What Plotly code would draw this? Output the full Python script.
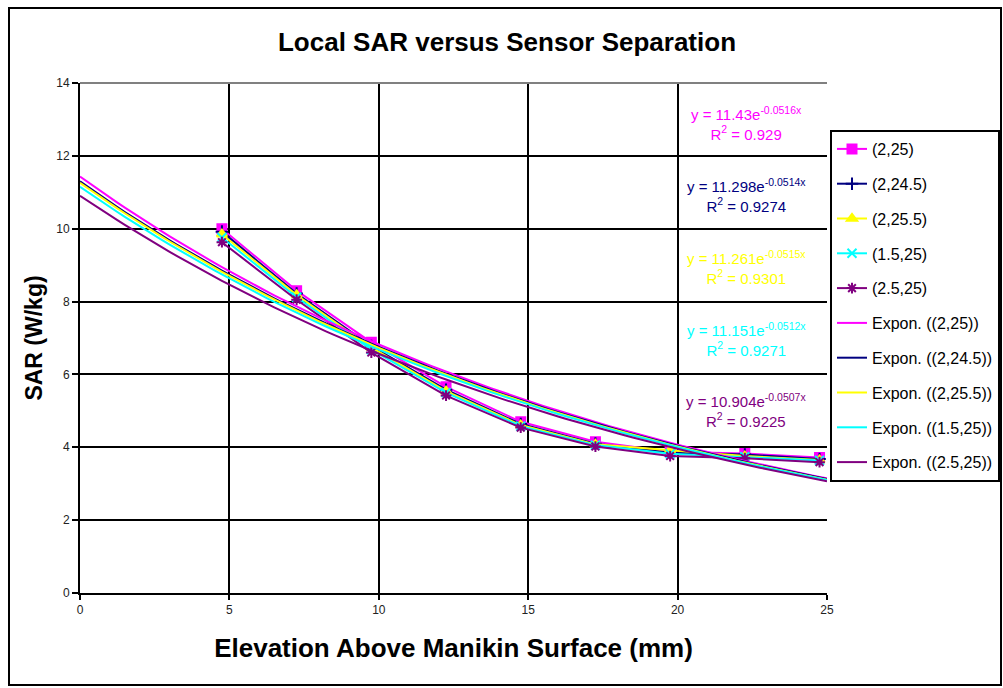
import numpy as np
import plotly.graph_objects as go

# ---- data ----
elevation = [4.75, 7.25, 9.75, 12.25, 14.75, 17.25, 19.75, 22.25, 24.75]
series_names = ["(2,25)", "(2,24.5)", "(2,25.5)", "(1.5,25)", "(2.5,25)"]
sar_2_25 = [10.0, 8.30, 6.88, 5.66, 4.70, 4.15, 3.88, 3.83, 3.72]
sar_2_245 = [9.92, 8.22, 6.78, 5.58, 4.64, 4.10, 3.85, 3.80, 3.68]
sar_2_255 = [9.85, 8.18, 6.74, 5.54, 4.61, 4.08, 3.92, 3.76, 3.65]
sar_15_25 = [9.76, 8.12, 6.68, 5.50, 4.58, 4.06, 3.82, 3.74, 3.64]
sar_25_25 = [9.63, 8.05, 6.60, 5.42, 4.54, 4.02, 3.76, 3.70, 3.59]
sar_values = [sar_2_25, sar_2_245, sar_2_255, sar_15_25, sar_25_25]

fit_a = [11.43, 11.298, 11.261, 11.151, 10.904]
fit_b = [-0.0516, -0.0514, -0.0515, -0.0512, -0.0507]
fit_r2 = ["0.929", "0.9274", "0.9301", "0.9271", "0.9225"]

x_ticks = [0, 5, 10, 15, 20, 25]
y_ticks = [0, 2, 4, 6, 8, 10, 12, 14]

# ---- style ----
colors = ["#FF00FF", "#000080", "#FFFF00", "#00FFFF", "#800080"]
symbols = ["square", "cross-thin", "triangle-up", "x-thin", "asterisk"]
FONT = "Arial, 'Liberation Sans', sans-serif"

fig = go.Figure()

for i, name in enumerate(series_names):
    fig.add_trace(go.Scatter(
        x=elevation, y=sar_values[i], mode="lines+markers", name=name,
        legendgroup="g%d" % i,
        line=dict(color=colors[i], width=2),
        marker=dict(symbol=symbols[i], size=9, color=colors[i],
                    line=dict(color=colors[i], width=2)),
    ))

x_fit = np.linspace(0, 25, 101)
for i, name in enumerate(series_names):
    fig.add_trace(go.Scatter(
        x=x_fit, y=fit_a[i] * np.exp(fit_b[i] * x_fit), mode="lines",
        name="Expon. (%s)" % name, legendgroup="t%d" % i,
        line=dict(color=colors[i], width=2),
    ))

# plot area geometry in px
L, R, T, B = 80, 827, 83, 593
W, H = R - L, B - T

def px_x(p):
    return (p - L) / W

def px_y(p):
    return (B - p) / H

eq_y = [113, 185, 257, 329, 400]
for i in range(5):
    fig.add_annotation(
        x=px_x(746), y=px_y(eq_y[i] - 11), xref="paper", yref="paper",
        xanchor="center", yanchor="top", showarrow=False, align="center",
        text="y = %se<sup>%sx</sup><br>R<sup>2</sup> = %s" % (fit_a[i], fit_b[i], fit_r2[i]),
        font=dict(family=FONT, size=15, color=colors[i]),
    )

# outer chart border
fig.add_shape(type="rect", xref="paper", yref="paper",
              x0=px_x(9), x1=px_x(1001), y0=px_y(685), y1=px_y(8),
              line=dict(color="black", width=2), layer="below")
# top plot-area border (gray)
fig.add_shape(type="line", xref="paper", yref="paper",
              x0=0, x1=1, y0=1, y1=1, line=dict(color="#808080", width=2))

fig.update_layout(
    width=1003, height=688,
    margin=dict(l=L, r=1003 - R, t=T, b=688 - B, autoexpand=False),
    paper_bgcolor="white", plot_bgcolor="white",
    font=dict(family=FONT, color="black"),
    title=dict(text="<b>Local SAR versus Sensor Separation</b>",
               x=507 / 1003, xanchor="center",
               y=1 - 42 / 688, yanchor="middle",
               font=dict(family=FONT, size=26, color="black")),
    showlegend=True,
    legend=dict(x=px_x(830), y=px_y(130), xanchor="left", yanchor="top",
                bgcolor="white", bordercolor="black", borderwidth=2,
                font=dict(family=FONT, size=16, color="black"),
                tracegroupgap=11, itemwidth=30),
    xaxis=dict(range=[0, 25], tickvals=x_ticks, showgrid=True,
               gridcolor="black", gridwidth=2, zeroline=False,
               showline=True, linecolor="black", linewidth=2,
               ticks="outside", ticklen=5, tickwidth=2, tickcolor="black",
               tickfont=dict(family=FONT, size=12, color="#222"),
               title=dict(text="<b>Elevation Above Manikin Surface (mm)</b>",
                          font=dict(family=FONT, size=26, color="black"),
                          standoff=22)),
    yaxis=dict(range=[0, 14], tickvals=y_ticks, showgrid=True,
               gridcolor="black", gridwidth=2, zeroline=False,
               showline=True, linecolor="black", linewidth=2,
               ticks="outside", ticklen=6, tickwidth=2, tickcolor="black",
               tickfont=dict(family=FONT, size=12, color="#222"),
               title=dict(text="<b>SAR (W/kg)</b>",
                          font=dict(family=FONT, size=23, color="black"),
                          standoff=7)),
)

fig.write_html("out.html", config={"displayModeBar": False},
               post_script="document.body.style.margin='0';")
